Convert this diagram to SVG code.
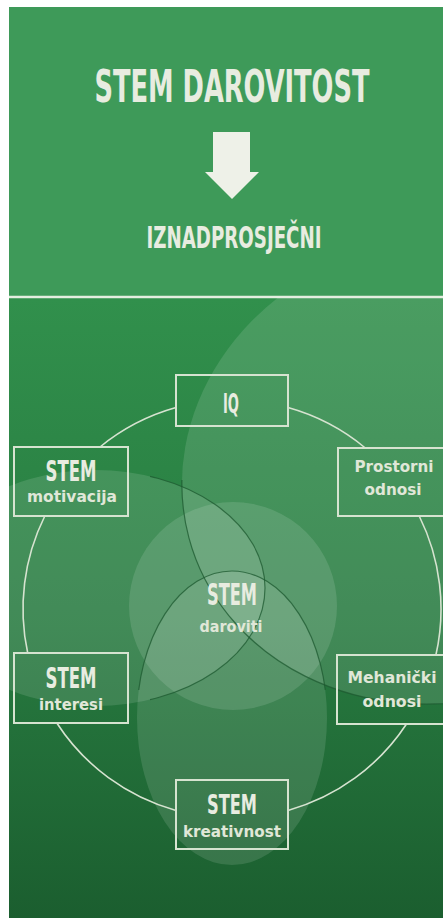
<svg xmlns="http://www.w3.org/2000/svg" width="443" height="918" viewBox="0 0 443 918">
<style>
.cond{font-family:"DejaVu Sans Condensed","DejaVu Sans","Liberation Sans",sans-serif;font-weight:bold;fill:#e8ece0;text-anchor:middle}
.lbl{font-family:"DejaVu Sans","Liberation Sans",sans-serif;font-weight:bold;font-size:16.5px;fill:#e0e7d8;text-anchor:middle}
.box{fill:none;stroke:#d6e3d0;stroke-width:2}
.ring{fill:none;stroke:#d6e3d0;stroke-width:1.6}
.blob{fill:#ffffff;fill-opacity:0.12}
.edge{fill:none;stroke:#1d5a30;stroke-width:1.2;stroke-opacity:0.75}
</style>
<defs>
<linearGradient id="bgLow" x1="0" y1="0" x2="0" y2="1">
<stop offset="0" stop-color="#31904c"/>
<stop offset="0.5" stop-color="#287c41"/>
<stop offset="1" stop-color="#1b5e2f"/>
</linearGradient>
<clipPath id="low"><rect x="9" y="298" width="434" height="620"/></clipPath>
<clipPath id="clipA"><rect x="9" y="480" width="434" height="438"/></clipPath>
<clipPath id="clipB"><rect x="150" y="298" width="293" height="620"/></clipPath>
<clipPath id="clipC"><rect x="9" y="298" width="434" height="392"/></clipPath>
</defs>
<rect x="0" y="0" width="443" height="918" fill="#ffffff"/>
<rect x="9" y="7" width="434" height="291" fill="#3e9a59"/>
<rect x="9" y="298" width="434" height="620" fill="url(#bgLow)"/>
<g id="title">
<text class="cond" x="232" y="102" font-size="40" textLength="275" lengthAdjust="spacingAndGlyphs" transform="translate(0,102) scale(1,1.1) translate(0,-102)">STEM DAROVITOST</text>
</g>
<g id="arrow">
<polygon points="213,132 250,132 250,172 259,172 232,199 205,172 213,172" fill="#eef1e8"/>
</g>
<g id="subtitle">
<text class="cond" x="234" y="248" font-size="31" textLength="175" lengthAdjust="spacingAndGlyphs">IZNADPROSJEČNI</text>
</g>
<line x1="9" y1="297" x2="443" y2="297" stroke="#e4eee0" stroke-width="2.5"/>
<g id="venn" clip-path="url(#low)">
<ellipse class="blob" cx="0" cy="0" rx="262" ry="232" transform="translate(442,470) rotate(-15)"/>
<ellipse class="blob" cx="95" cy="588" rx="170" ry="118"/>
<ellipse class="blob" cx="232" cy="718" rx="95" ry="147"/>
<circle class="blob" cx="233" cy="606" r="104"/>
<g clip-path="url(#clipA)"><ellipse class="edge" cx="0" cy="0" rx="262" ry="232" transform="translate(442,470) rotate(-15)"/></g>
<g clip-path="url(#clipB)"><ellipse class="edge" cx="95" cy="588" rx="170" ry="118"/></g>
<g clip-path="url(#clipC)"><ellipse class="edge" cx="232" cy="718" rx="95" ry="147"/></g>
</g>
<g id="connectors">
<path class="ring" d="M176,407.6 A209,209 0 0 0 100,447"/>
<path class="ring" d="M44.8,516 A209,209 0 0 0 27.7,653"/>
<path class="ring" d="M56.8,723 A209,209 0 0 0 176,810.4"/>
<path class="ring" d="M288,810.4 A209,209 0 0 0 406.5,724"/>
<path class="ring" d="M435.9,655 A209,209 0 0 0 419.2,516"/>
<path class="ring" d="M365.3,448 A209,209 0 0 0 288,407.6"/>
</g>
<g id="node-iq">
<rect class="box" x="176" y="375" width="112" height="51"/>
<text class="cond" x="231" y="413" font-size="27" textLength="16" lengthAdjust="spacingAndGlyphs">IQ</text>
</g>
<g id="node-motivacija">
<rect class="box" x="14" y="447" width="114" height="69"/>
<text class="cond" x="71" y="481" font-size="29" textLength="51" lengthAdjust="spacingAndGlyphs">STEM</text>
<text class="lbl" x="72" y="502" textLength="90" lengthAdjust="spacingAndGlyphs">motivacija</text>
</g>
<g id="node-prostorni">
<rect class="box" x="338" y="448" width="110" height="68"/>
<text class="lbl" x="394" y="472" textLength="79" lengthAdjust="spacingAndGlyphs">Prostorni</text>
<text class="lbl" x="393" y="495" textLength="57" lengthAdjust="spacingAndGlyphs">odnosi</text>
</g>
<g id="node-daroviti">
<text class="cond" x="232" y="605" font-size="30" textLength="50" lengthAdjust="spacingAndGlyphs">STEM</text>
<text class="lbl" x="231" y="632" textLength="63" lengthAdjust="spacingAndGlyphs">daroviti</text>
</g>
<g id="node-interesi">
<rect class="box" x="14" y="653" width="114" height="70"/>
<text class="cond" x="71" y="688" font-size="29" textLength="51" lengthAdjust="spacingAndGlyphs">STEM</text>
<text class="lbl" x="71" y="710" textLength="64" lengthAdjust="spacingAndGlyphs">interesi</text>
</g>
<g id="node-mehanicki">
<rect class="box" x="337" y="655" width="111" height="69"/>
<text class="lbl" x="392" y="683" textLength="89" lengthAdjust="spacingAndGlyphs">Mehanički</text>
<text class="lbl" x="392" y="707" textLength="59" lengthAdjust="spacingAndGlyphs">odnosi</text>
</g>
<g id="node-kreativnost">
<rect class="box" x="176" y="780" width="112" height="69"/>
<text class="cond" x="232" y="814" font-size="27" textLength="50" lengthAdjust="spacingAndGlyphs">STEM</text>
<text class="lbl" x="232" y="837" textLength="98" lengthAdjust="spacingAndGlyphs">kreativnost</text>
</g>
</svg>
